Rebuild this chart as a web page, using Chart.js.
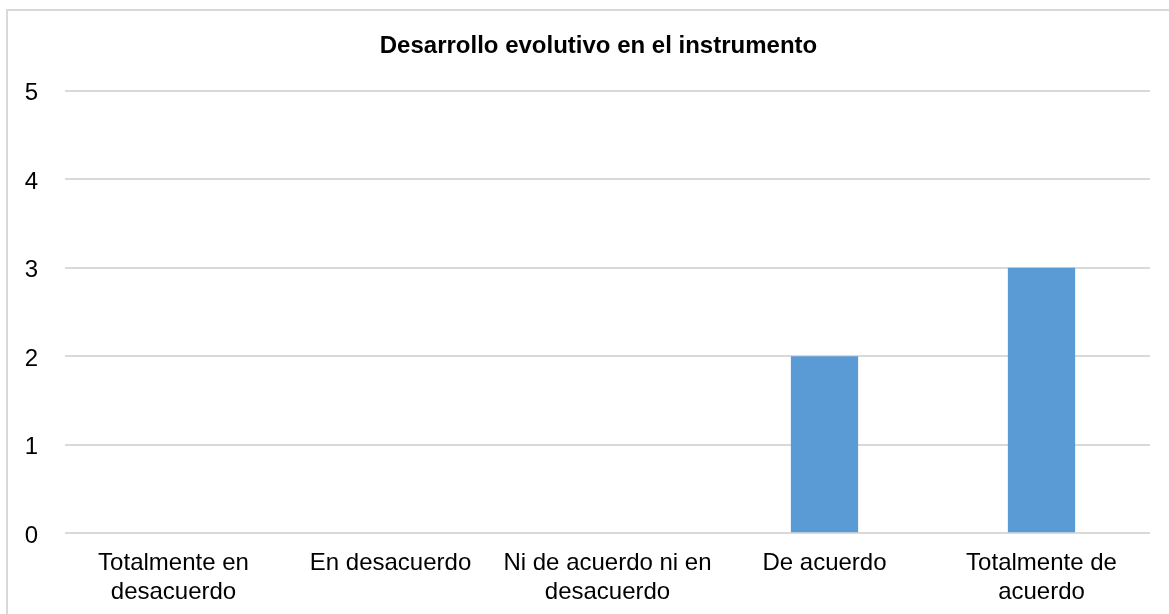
<!DOCTYPE html>
<html>
<head>
<meta charset="utf-8">
<script src="https://cdn.jsdelivr.net/npm/chart.js@4/dist/chart.umd.min.js"></script>
<style>
    html, body { margin: 0; padding: 0; background: #fff; overflow: hidden; }
    #marco {
        position: absolute; left: 6px; top: 9px; width: 1200px; height: 700px;
        border-left: 2px solid #d9d9d9; border-top: 2px solid #d9d9d9;
    }
    #grafico { position: absolute; left: 0; top: 0; }
</style>
</head>
<body>
<div id="marco"></div>
<canvas id="grafico" width="1169" height="614"></canvas>
<script>
// Datos del gráfico
const titulo = 'Desarrollo evolutivo en el instrumento';
const categorias = [
    ['Totalmente en', 'desacuerdo'],
    'En desacuerdo',
    ['Ni de acuerdo ni en', 'desacuerdo'],
    'De acuerdo',
    ['Totalmente de', 'acuerdo']
];
const valores = [0, 0, 0, 2, 3];
const ejeMin = 0;
const ejeMax = 5;
const ejePaso = 1;

const fuente = "'Liberation Sans', Arial, sans-serif";
const colorTexto = '#000';

Chart.defaults.font.family = fuente;

// el título del original no está centrado sobre todo el lienzo
const desplazarTitulo = {
    id: 'desplazarTitulo',
    afterLayout(chart) {
        if (chart.titleBlock) {
            chart.titleBlock.left += 47;
        }
    }
};

const ctx = document.getElementById('grafico').getContext('2d');
new Chart(ctx, {
    type: 'bar',
    data: {
        labels: categorias,
        datasets: [{
            data: valores,
            backgroundColor: '#5b9bd5',
            borderWidth: 0,
            categoryPercentage: 1,
            barPercentage: 0.31
        }]
    },
    options: {
        responsive: false,
        animation: false,
        layout: {
            padding: { left: 0, right: 19, top: 10, bottom: 0 }
        },
        plugins: {
            legend: { display: false },
            tooltip: { enabled: false },
            title: {
                display: true,
                text: titulo,
                color: colorTexto,
                font: { size: 24, weight: 'bold', lineHeight: 1.2 },
                padding: { top: 21.5, bottom: 30.5 }
            }
        },
        scales: {
            x: {
                grid: { display: false, drawTicks: false },
                border: { display: false },
                ticks: {
                    color: colorTexto,
                    font: { size: 24, lineHeight: 1.23 },
                    padding: 15,
                    maxRotation: 0,
                    autoSkip: false
                },
                afterFit: function (scale) {
                    scale.height = 80.7;
                }
            },
            y: {
                min: ejeMin,
                max: ejeMax,
                grid: { color: '#d9d9d9', lineWidth: 2, drawTicks: false },
                border: { display: false },
                ticks: {
                    stepSize: ejePaso,
                    color: colorTexto,
                    font: { size: 24 },
                    padding: 27,
                    labelOffset: 3
                },
                afterFit: function (scale) {
                    scale.width = 65;
                }
            }
        }
    },
    plugins: [desplazarTitulo]
});
</script>
</body>
</html>
